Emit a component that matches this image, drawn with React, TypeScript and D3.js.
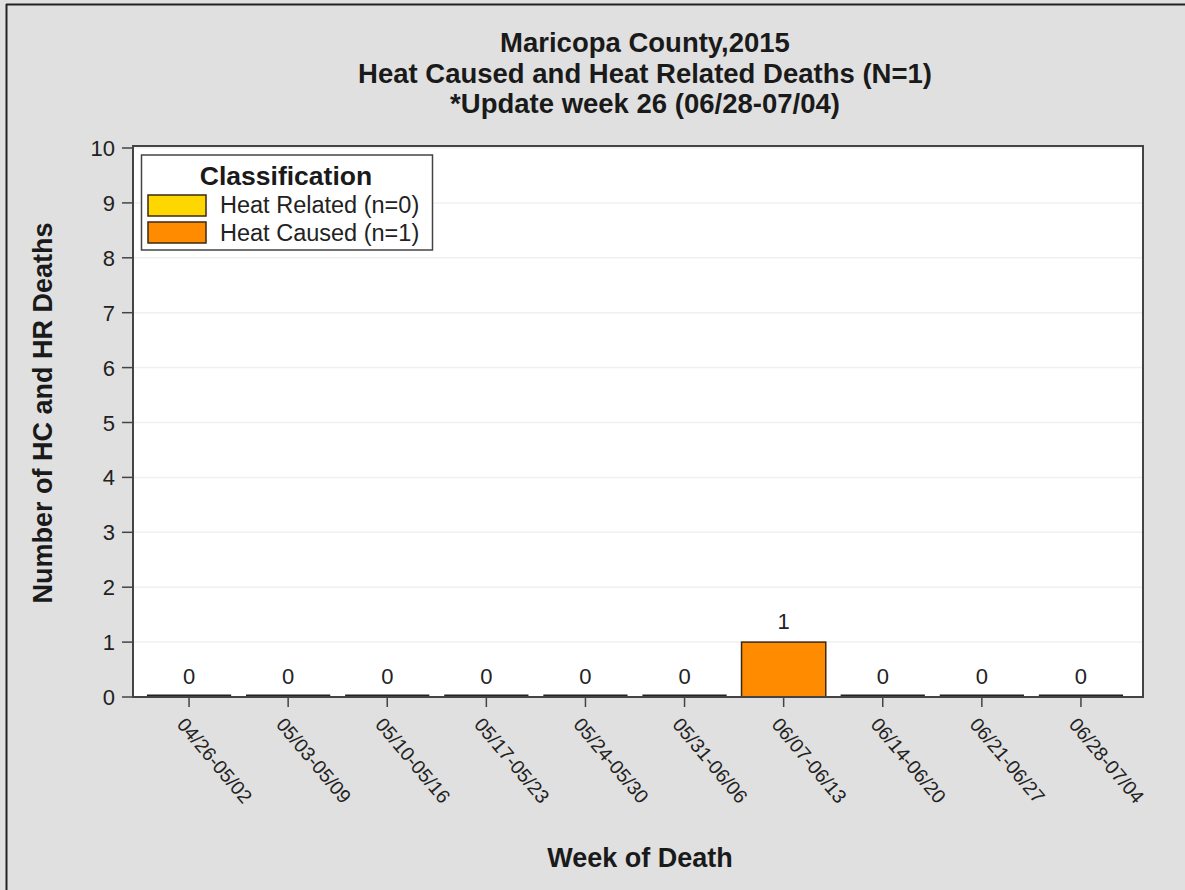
import React from "react";
import * as d3 from "d3";

const weeks = ["04/26-05/02","05/03-05/09","05/10-05/16","05/17-05/23","05/24-05/30","05/31-06/06","06/07-06/13","06/14-06/20","06/21-06/27","06/28-07/04"];
const heatCaused = [0,0,0,0,0,0,1,0,0,0];
const heatRelated = [0,0,0,0,0,0,0,0,0,0];
const yTicks = [0,1,2,3,4,5,6,7,8,9,10];
const titleLines = ["Maricopa County,2015","Heat Caused and Heat Related Deaths (N=1)","*Update week 26 (06/28-07/04)"];
const legendItems = [{label:"Heat Related (n=0)", color:"#ffd700"},{label:"Heat Caused (n=1)", color:"#ff8c00"}];

export default function App() {
  const W = 1185, H = 890;
  const left = 133, right = 1143, top = 146, bottom = 697;
  const x = d3.scaleBand<string>().domain(weeks).range([139.5, 1130.5]).paddingInner(0.15).paddingOuter(0.075);
  const y = d3.scaleLinear().domain([0, 10]).range([bottom, 148]);
  const font = "Liberation Sans, Arial, sans-serif";
  const totals = weeks.map((_, i) => heatCaused[i] + heatRelated[i]);
  const titleBase = [52, 83, 113];
  return (
    <svg width={W} height={H} style={{position:"absolute", left:0, top:0}} fontFamily={font}>
      <rect x={0} y={0} width={W} height={H} fill="#e0e0e0" />
      <line x1={6.5} y1={4} x2={6.5} y2={H} stroke="#222" strokeWidth={2} />
      <line x1={6} y1={4.5} x2={W} y2={4.5} stroke="#222" strokeWidth={2} />
      {titleLines.map((t, i) => (
        <text key={i} x={645} y={titleBase[i]} textAnchor="middle" fontSize={27.5} fontWeight="bold" fill="#1a1a1a">{t}</text>
      ))}
      <rect x={left} y={top} width={right - left} height={bottom - top} fill="#fff" />
      {yTicks.map(t => (
        <line key={t} x1={left} x2={right} y1={y(t)} y2={y(t)} stroke="#f0f0f0" strokeWidth={1.5} />
      ))}
      {weeks.map((w, i) => {
        const x0 = x(w)!;
        const bw = x.bandwidth();
        const yHC = y(heatCaused[i]);
        const yHR = y(heatCaused[i] + heatRelated[i]);
        return (
          <g key={w}>
            <rect x={x0} y={yHC} width={bw} height={bottom - yHC} fill={legendItems[1].color} stroke="#3a2a10" strokeWidth={1.5} />
            {heatRelated[i] > 0 && <rect x={x0} y={yHR} width={bw} height={yHC - yHR} fill={legendItems[0].color} stroke="#3a2a10" strokeWidth={1.5} />}
            {heatCaused[i] === 0 && heatRelated[i] === 0 && (
              <line x1={x0} x2={x0 + bw} y1={bottom - 1} y2={bottom - 1} stroke="#222" strokeWidth={3} />
            )}
            <text x={x0 + bw / 2} y={y(totals[i]) - 13} textAnchor="middle" fontSize={22} fill="#222">{totals[i]}</text>
          </g>
        );
      })}
      <rect x={left} y={top} width={right - left} height={bottom - top} fill="none" stroke="#444" strokeWidth={2} />
      {yTicks.map(t => (
        <g key={t}>
          <line x1={left - 11} x2={left} y1={y(t)} y2={y(t)} stroke="#444" strokeWidth={1.5} />
          <text x={left - 18} y={y(t) + 8} textAnchor="end" fontSize={22} fill="#222">{t}</text>
        </g>
      ))}
      {weeks.map(w => {
        const cx = x(w)! + x.bandwidth() / 2;
        return (
          <g key={w}>
            <line x1={cx} x2={cx} y1={bottom} y2={bottom + 10} stroke="#444" strokeWidth={1.5} />
            <text transform={`translate(${cx - 13},${bottom + 28}) rotate(50)`} textAnchor="start" fontSize={19.5} fill="#222">{w}</text>
          </g>
        );
      })}
      <text x={640} y={867} textAnchor="middle" fontSize={27} fontWeight="bold" fill="#1a1a1a">Week of Death</text>
      <text transform={`translate(52,413) rotate(-90)`} textAnchor="middle" fontSize={27} fontWeight="bold" fill="#1a1a1a">Number of HC and HR Deaths</text>
      <rect x={141.5} y={155} width={291} height={95} fill="#fff" stroke="#444" strokeWidth={1.5} />
      <text x={286} y={185} textAnchor="middle" fontSize={26.5} fontWeight="bold" fill="#1a1a1a">Classification</text>
      {legendItems.map((it, i) => (
        <g key={it.label}>
          <rect x={148} y={195 + i * 27} width={58} height={21} fill={it.color} stroke="#3a2a10" strokeWidth={1.5} />
          <text x={220} y={213 + i * 27.5} fontSize={23.5} fill="#222">{it.label}</text>
        </g>
      ))}
    </svg>
  );
}
